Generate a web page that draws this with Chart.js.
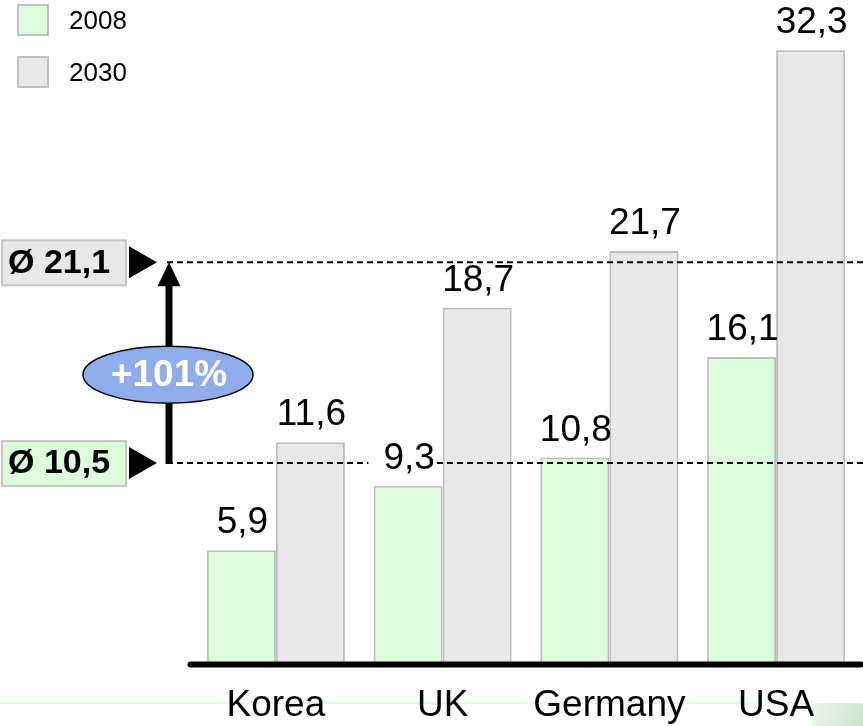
<!DOCTYPE html>
<html>
<head>
<meta charset="utf-8">
<style>
  html, body { margin: 0; padding: 0; background: #fff; }
  #wrap { width: 863px; height: 726px; position: relative; }
</style>
<script src="https://cdn.jsdelivr.net/npm/chart.js@4/dist/chart.umd.min.js"></script>
</head>
<body>
<div id="wrap"><canvas id="chart" width="863" height="726"></canvas></div>
<script>
const countries = ["Korea", "UK", "Germany", "USA"];
const values2008 = [5.9, 9.3, 10.8, 16.1];
const values2030 = [11.6, 18.7, 21.7, 32.3];
const seriesNames = ["2008", "2030"];

const FONT = "'Liberation Sans', Arial, sans-serif";
const green = "#dcfcdc";
const grey = "#e9e7e9";
const edge = "#bdbdbd";

const avg = arr => Math.round(arr.reduce((a, b) => a + b, 0) / arr.length * 10) / 10;
const avg2008 = avg(values2008);
const avg2030 = avg(values2030);
const growth = Math.round((avg2030 / avg2008 - 1) * 100);

const fmt = v => v.toFixed(1).replace(".", ",");

// slide decoration behind the chart
const backdrop = {
  id: "backdrop",
  beforeDraw(chart) {
    const ctx = chart.ctx;
    ctx.save();
    ctx.fillStyle = "#fff";
    ctx.fillRect(0, 0, chart.width, chart.height);
    ctx.strokeStyle = "#ddf7dd";
    ctx.lineWidth = 1.5;
    ctx.beginPath();
    ctx.moveTo(0, 703);
    ctx.lineTo(812, 703);
    ctx.stroke();
    const g = ctx.createLinearGradient(812, 703, 863, 726);
    g.addColorStop(0, "#eef8ee");
    g.addColorStop(1, "#c9e4c9");
    ctx.fillStyle = g;
    ctx.fillRect(812, 703, 51, 23);
    ctx.restore();
  }
};

const overlay = {
  id: "overlay",
  afterDatasetsDraw(chart) {
    const ctx = chart.ctx;
    const y = chart.scales.y;
    const area = chart.chartArea;
    const yHi = y.getPixelForValue(avg2030);
    const yLo = y.getPixelForValue(avg2008);
    ctx.save();

    // base line
    ctx.strokeStyle = "#000";
    ctx.lineWidth = 6;
    ctx.lineCap = "round";
    ctx.beginPath();
    ctx.moveTo(area.left - 2, area.bottom + 2.5);
    ctx.lineTo(area.right + 1, area.bottom + 2.5);
    ctx.stroke();

    // average dashed lines
    ctx.lineCap = "butt";
    ctx.lineWidth = 2;
    ctx.setLineDash([6, 4]);
    [yHi, yLo].forEach(py => {
      ctx.beginPath();
      ctx.moveTo(167, py);
      ctx.lineTo(chart.width, py);
      ctx.stroke();
    });
    ctx.setLineDash([]);

    // value labels with white backing
    ctx.font = "37px " + FONT;
    ctx.textAlign = "center";
    ctx.textBaseline = "middle";
    chart.data.datasets.forEach((ds, di) => {
      chart.getDatasetMeta(di).data.forEach((bar, i) => {
        const txt = fmt(ds.data[i]);
        const w = ctx.measureText(txt).width;
        const cy = bar.y - 28;
        ctx.fillStyle = "#fff";
        ctx.fillRect(bar.x - w / 2 - 14, cy - 15, w + 12, 30);
        ctx.fillStyle = "#000";
        ctx.fillText(txt, bar.x + 1, cy + 1);
      });
    });

    // average tags on the left
    const tag = (py, fill, text) => {
      ctx.fillStyle = fill;
      ctx.fillRect(2, py - 22, 124, 45);
      ctx.strokeStyle = "#c4c4c4";
      ctx.lineWidth = 2;
      ctx.strokeRect(2, py - 22, 124, 45);
      ctx.fillStyle = "#000";
      ctx.font = "bold 34px " + FONT;
      ctx.textAlign = "left";
      ctx.textBaseline = "middle";
      ctx.fillText(text, 8, py + 1);
      ctx.beginPath();
      ctx.moveTo(129, py - 16);
      ctx.lineTo(157, py);
      ctx.lineTo(129, py + 16);
      ctx.closePath();
      ctx.fill();
    };
    tag(yHi, grey, "Ø " + fmt(avg2030));
    tag(yLo, green, "Ø " + fmt(avg2008));

    // growth arrow
    const ax = 169;
    ctx.strokeStyle = "#000";
    ctx.lineWidth = 7;
    ctx.beginPath();
    ctx.moveTo(ax, yLo + 1);
    ctx.lineTo(ax, yHi + 22);
    ctx.stroke();
    ctx.fillStyle = "#000";
    ctx.beginPath();
    ctx.moveTo(ax, yHi);
    ctx.lineTo(ax + 11.5, yHi + 24);
    ctx.lineTo(ax - 11.5, yHi + 24);
    ctx.closePath();
    ctx.fill();

    const ey = (yHi + yLo) / 2 + 12;
    ctx.beginPath();
    ctx.ellipse(ax - 1, ey, 85, 28.5, 0, 0, Math.PI * 2);
    ctx.fillStyle = "#90acea";
    ctx.fill();
    ctx.lineWidth = 1.5;
    ctx.stroke();
    ctx.fillStyle = "#fff";
    ctx.font = "bold 37px " + FONT;
    ctx.textAlign = "center";
    ctx.fillText("+" + growth + "%", ax, ey + 1);

    // legend
    const legend = [[green, seriesNames[0], 5], [grey, seriesNames[1], 57]];
    legend.forEach(([c, name, top]) => {
      ctx.fillStyle = c;
      ctx.fillRect(18, top, 30, 30);
      ctx.strokeStyle = "#c0c0c0";
      ctx.lineWidth = 2;
      ctx.strokeRect(18, top, 30, 30);
      ctx.fillStyle = "#000";
      ctx.font = "26px " + FONT;
      ctx.textAlign = "left";
      ctx.fillText(name, 69, top + 17);
    });

    ctx.restore();
  }
};

new Chart(document.getElementById("chart"), {
  type: "bar",
  data: {
    labels: countries,
    datasets: [
      { label: seriesNames[0], data: values2008, backgroundColor: green, borderColor: edge, borderWidth: 2 },
      { label: seriesNames[1], data: values2030, backgroundColor: grey, borderColor: edge, borderWidth: 2 }
    ]
  },
  options: {
    responsive: false,
    animation: false,
    events: [],
    layout: { padding: { left: 192.5, right: 3.5, top: 18, bottom: 0 } },
    datasets: { bar: { categoryPercentage: 0.828, barPercentage: 1 } },
    scales: {
      x: {
        grid: { display: false, drawTicks: false },
        border: { display: false },
        ticks: { color: "#000", font: { family: FONT, size: 37 }, padding: 22, maxRotation: 0 },
        afterFit(axis) { axis.height = 64; }
      },
      y: { display: false, min: 0, max: 34 }
    },
    plugins: { legend: { display: false }, tooltip: { enabled: false } }
  },
  plugins: [backdrop, overlay]
});
</script>
</body>
</html>
